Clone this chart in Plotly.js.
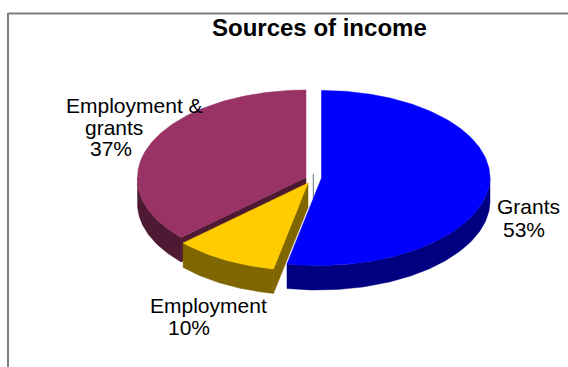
<!DOCTYPE html>
<html>
<head>
<meta charset="utf-8">
<script src="https://cdn.plot.ly/plotly-3.0.1.min.js"></script>
<style>html,body{margin:0;padding:0;background:#fff}#chart{width:568px;height:367px}</style>
</head>
<body>
<div id="chart"></div>
<script>
// Income shares, in percent, clockwise from twelve o'clock
const categories = ["Grants", "Employment", "Employment & grants"];
const shares = [53, 10, 37];
const topColors = ["#0000ff", "#ffcc00", "#993366"];
const sideColors = ["#000080", "#806600", "#4d1933"];

// Each wedge is pulled away from the middle by its own amount
const wedgeCentres = [[321.5, 178], [308, 183], [306, 177.5]];
const radiusX = 168.5, radiusY = 87.5, thickness = 24.5, frontLean = 3;

const rad = d => d * Math.PI / 180;
// The front of the disc leans slightly left, as the tilted view does
const rimPoint = (c, deg, drop) => [
  c[0] + radiusX * Math.sin(rad(deg)) - frontLean * Math.max(0, -Math.cos(rad(deg))),
  c[1] - radiusY * Math.cos(rad(deg)) + drop
];
function arc(c, from, to, drop) {
  const pts = [], n = Math.max(2, Math.ceil(Math.abs(to - from)));
  for (let i = 0; i <= n; i++) pts.push(rimPoint(c, from + (to - from) * i / n, drop));
  return pts;
}
function polygon(pts, color) {
  return {
    type: "scatter", mode: "lines", fill: "toself", fillcolor: color,
    x: pts.map(p => p[0]).concat(pts[0][0]),
    y: pts.map(p => p[1]).concat(pts[0][1]),
    line: {width: 0.5, color: color}, hoverinfo: "skip", showlegend: false
  };
}

// Slice angles come from the shares
const spans = [];
let running = 0;
shares.forEach(s => { spans.push([running * 3.6, (running + s) * 3.6]); running += s; });

// Slim line showing in the gap where the wedges meet
const seamX = [313.3, 313.3], seamY = [174, 198];
const traces = [{type: "scatter", mode: "lines", x: seamX, y: seamY,
  line: {width: 1, color: "#607878"}, hoverinfo: "skip", showlegend: false}];

// Drawn back to front: purple, then yellow, then blue
[2, 1, 0].forEach(i => {
  const c = wedgeCentres[i], [a, b] = spans[i];
  const from = Math.max(a, 90), to = Math.min(b, 270);
  // Outer wall, the part of the rim facing the viewer
  traces.push(polygon(arc(c, from, to, 0).concat(arc(c, to, from, thickness)), sideColors[i]));
  // Cut wall that faces the viewer
  if (i !== 0) {
    const e = rimPoint(c, a, 0);
    traces.push(polygon([c, e, [e[0], e[1] + thickness], [c[0], c[1] + thickness]], sideColors[i]));
  }
  // Top face
  traces.push(polygon([c].concat(arc(c, a, b, 0)), topColors[i]));
});

const labelFont = {family: "Liberation Sans, Arial, sans-serif", size: 21, color: "#000"};
const text = (s, x, y, font) => ({
  text: s, x: x, y: y, xref: "x", yref: "y", showarrow: false,
  xanchor: "left", yanchor: "middle", font: font || labelFont
});

const annotations = [
  text("Sources of income", 210, 27.5, {family: "Liberation Sans, Arial, sans-serif", size: 24, color: "#000", weight: 700}),
  text("Employment &", 64, 105, null),
  text("grants", 83, 127, null),
  text(shares[2] + "%", 88, 148, null),
  text(categories[0], 494.5, 206, null),
  text(shares[0] + "%", 501, 229, null),
  text(categories[1], 148, 305, null),
  text(shares[1] + "%", 166, 327, null)
];

const frameLine = {type: "line", xref: "x", yref: "y", line: {color: "#808080", width: 2}};

Plotly.newPlot("chart", traces, {
  width: 568, height: 367,
  margin: {l: 0, r: 0, t: 0, b: 0},
  paper_bgcolor: "#fff", plot_bgcolor: "#fff",
  xaxis: {range: [0, 568], visible: false, fixedrange: true},
  yaxis: {range: [367, 0], visible: false, fixedrange: true},
  annotations: annotations,
  shapes: [
    Object.assign({x0: 8, x1: 8, y0: 13, y1: 367}, frameLine),
    Object.assign({x0: 8, x1: 568, y0: 13.5, y1: 13.5}, frameLine)
  ]
}, {displayModeBar: false, staticPlot: true});
</script>
</body>
</html>
